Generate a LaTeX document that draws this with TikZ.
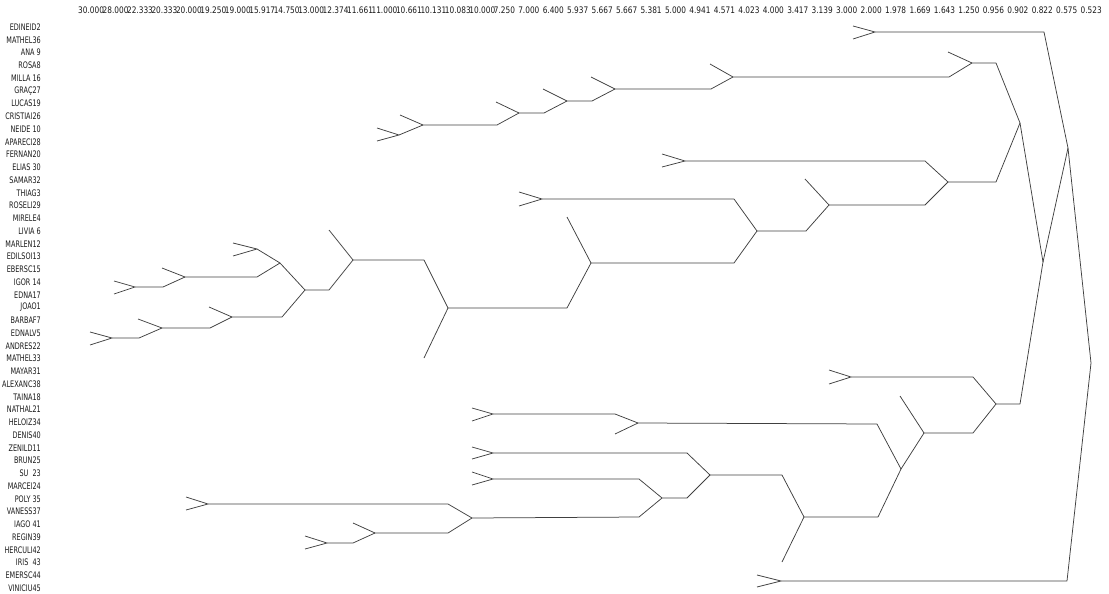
\documentclass[tikz,border=0pt]{standalone}
\usepackage{fontspec}
\usepackage{graphicx}
\newfontfamily\labfont{DejaVu Sans}
\tikzset{
  branch/.style={draw=black!75, line width=0.75pt, line join=round},
  lab/.style={anchor=east, inner sep=0pt, text=black!90, font=\labfont\fontsize{9}{9}\selectfont},
  tick/.style={anchor=west, inner sep=0pt, text=black!90, font=\labfont\fontsize{9}{9}\selectfont}
}
\begin{document}
\begin{tikzpicture}[x=1pt,y=-1pt]
\useasboundingbox (0,0) rectangle (1109,594);
% distance scale on top
\foreach \v [count=\i from 0] in {30.000,28.000,22.333,20.333,20.000,19.250,19.000,15.917,14.750,13.000,12.374,11.661,11.000,10.661,10.131,10.083,10.000,7.250,7.000,6.400,5.937,5.667,5.667,5.381,5.000,4.941,4.571,4.023,4.000,3.417,3.139,3.000,2.000,1.978,1.669,1.643,1.250,0.956,0.902,0.822,0.575,0.523}
  \node[tick] (s\i) at ({78+24.45*\i},10) {\scalebox{0.82}[1]{\v}};
% labels
\foreach \name [count=\i] in {EDINEID2,MATHEL36,ANA 9,ROSA8,MILLA 16,GRAÇ27,LUCAS19,CRISTIAI26,NEIDE 10,APARECI28,FERNAN20,ELIAS 30,SAMAR32,THIAG3,ROSELI29,MIRELE4,LIVIA 6,MARLEN12,EDILSOI13,EBERSC15,IGOR 14,EDNA17,JOAO1,BARBAF7,EDNALV5,ANDRES22,MATHEL33,MAYAR31,ALEXANC38,TAINA18,NATHAL21,HELOIZ34,DENIS40,ZENILD11,BRUN25,SU\ \ 23,MARCEI24,POLY 35,VANESS37,IAGO 41,REGIN39,HERCULI42,IRIS\ \ 43,EMERSC44,VINICIU45}
  \node[lab] (n\i) at (41,{27+12.75*(\i-1)}) {\scalebox{0.72}[1]{\name}};
% root and top pair
\coordinate (root) at (1091,363);
\coordinate (ja) at (1068,148);
\coordinate (ea) at (1044,32); \coordinate (pa) at (875,32);
\coordinate (pa1) at (853,26); \coordinate (pa2) at (853,39);
\draw[branch] (pa1) -- (pa) -- (pa2);
\draw[branch] (pa) -- (ea) -- (ja) -- (root);
% bottom pair
\coordinate (eb) at (1067,581); \coordinate (pb) at (781,581);
\coordinate (pb1) at (757,575); \coordinate (pb2) at (757,587);
\draw[branch] (pb1) -- (pb) -- (pb2);
\draw[branch] (root) -- (eb) -- (pb);
% upper group
\coordinate (jb) at (1043,262);
\coordinate (jc) at (1020,123);
\draw[branch] (ja) -- (jb);
\draw[branch] (jc) -- (jb);
\coordinate (c1) at (996,63); \coordinate (jd) at (972,63); \coordinate (t1) at (948,52);
\draw[branch] (jd) -- (c1) -- (jc);
\draw[branch] (t1) -- (jd);
\coordinate (c2) at (949,77); \coordinate (je) at (733,77); \coordinate (t2) at (710,64);
\draw[branch] (je) -- (c2) -- (jd);
\draw[branch] (t2) -- (je);
\coordinate (c3) at (711,89); \coordinate (jf) at (615,89); \coordinate (t3) at (591,77);
\draw[branch] (jf) -- (c3) -- (je);
\draw[branch] (t3) -- (jf);
\coordinate (c4) at (592,101); \coordinate (jg) at (567,101); \coordinate (t4) at (543,89);
\draw[branch] (jg) -- (c4) -- (jf);
\draw[branch] (t4) -- (jg);
\coordinate (c5) at (544,113); \coordinate (jh) at (519,113); \coordinate (t5) at (496,102);
\draw[branch] (jh) -- (c5) -- (jg);
\draw[branch] (t5) -- (jh);
\coordinate (c6) at (497,125); \coordinate (ji) at (423,125); \coordinate (t6) at (400,115);
\draw[branch] (ji) -- (c6) -- (jh);
\draw[branch] (t6) -- (ji);
\coordinate (pc) at (399,135); \coordinate (pc1) at (377,128); \coordinate (pc2) at (377,141);
\draw[branch] (pc) -- (ji);
\draw[branch] (pc1) -- (pc) -- (pc2);
% middle group
\coordinate (c7) at (996,182); \coordinate (jj) at (948,182);
\draw[branch] (jj) -- (c7) -- (jc);
\coordinate (c8) at (925,161); \coordinate (pd) at (685,161);
\coordinate (pd1) at (662,154); \coordinate (pd2) at (662,167);
\draw[branch] (pd) -- (c8) -- (jj);
\draw[branch] (pd1) -- (pd) -- (pd2);
\coordinate (c9) at (925,205); \coordinate (jk) at (829,205); \coordinate (t7) at (805,179);
\draw[branch] (jk) -- (c9) -- (jj);
\draw[branch] (t7) -- (jk);
\coordinate (c10) at (806,231); \coordinate (jl) at (757,231);
\draw[branch] (jl) -- (c10) -- (jk);
\coordinate (c11) at (734,199); \coordinate (pe) at (542,199);
\coordinate (pe1) at (519,192); \coordinate (pe2) at (519,206);
\draw[branch] (pe) -- (c11) -- (jl);
\draw[branch] (pe1) -- (pe) -- (pe2);
\coordinate (c12) at (734,263); \coordinate (jm) at (591,263); \coordinate (t8) at (567,217);
\draw[branch] (jm) -- (c12) -- (jl);
\draw[branch] (t8) -- (jm);
\coordinate (c13) at (567,308); \coordinate (jn) at (448,308); \coordinate (t9) at (424,358);
\draw[branch] (jn) -- (c13) -- (jm);
\draw[branch] (t9) -- (jn);
\coordinate (c14) at (424,260); \coordinate (jo) at (353,260); \coordinate (t10) at (329,230);
\draw[branch] (jo) -- (c14) -- (jn);
\draw[branch] (t10) -- (jo);
\coordinate (c15) at (329,290); \coordinate (jp) at (305,290);
\draw[branch] (jp) -- (c15) -- (jo);
\coordinate (jq) at (280,263);
\draw[branch] (jq) -- (jp);
\coordinate (pf) at (257,249); \coordinate (pf1) at (233,243); \coordinate (pf2) at (233,256);
\draw[branch] (pf) -- (jq);
\draw[branch] (pf1) -- (pf) -- (pf2);
\coordinate (c16) at (257,277); \coordinate (jr) at (185,277); \coordinate (t11) at (162,268);
\draw[branch] (jr) -- (c16) -- (jq);
\draw[branch] (t11) -- (jr);
\coordinate (c17) at (163,287); \coordinate (pg) at (135,287);
\coordinate (pg1) at (114,281); \coordinate (pg2) at (114,294);
\draw[branch] (pg) -- (c17) -- (jr);
\draw[branch] (pg1) -- (pg) -- (pg2);
\coordinate (c18) at (282,317); \coordinate (js) at (232,317); \coordinate (t12) at (209,307);
\draw[branch] (js) -- (c18) -- (jp);
\draw[branch] (t12) -- (js);
\coordinate (c19) at (210,328); \coordinate (jt) at (162,328); \coordinate (t13) at (138,319);
\draw[branch] (jt) -- (c19) -- (js);
\draw[branch] (t13) -- (jt);
\coordinate (c20) at (139,338); \coordinate (ph) at (112,338);
\coordinate (ph1) at (90,332); \coordinate (ph2) at (90,345);
\draw[branch] (ph) -- (c20) -- (jt);
\draw[branch] (ph1) -- (ph) -- (ph2);
% lower group
\coordinate (c21) at (1020,404); \coordinate (ju) at (996,404);
\draw[branch] (ju) -- (c21) -- (jb);
\coordinate (c22) at (973,377); \coordinate (pi) at (851,377);
\coordinate (pi1) at (829,370); \coordinate (pi2) at (829,384);
\draw[branch] (pi) -- (c22) -- (ju);
\draw[branch] (pi1) -- (pi) -- (pi2);
\coordinate (c23) at (973,433); \coordinate (jv) at (924,433); \coordinate (t14) at (900,396);
\draw[branch] (jv) -- (c23) -- (ju);
\draw[branch] (t14) -- (jv);
\coordinate (jw) at (901,469);
\draw[branch] (jw) -- (jv);
\coordinate (c24) at (877,424); \coordinate (jx) at (638,423);
\draw[branch] (jx) -- (c24) -- (jw);
\coordinate (c25) at (615,414); \coordinate (pj) at (493,414); \coordinate (t15) at (615,434);
\coordinate (pj1) at (472,408); \coordinate (pj2) at (472,421);
\draw[branch] (pj) -- (c25) -- (jx);
\draw[branch] (t15) -- (jx);
\draw[branch] (pj1) -- (pj) -- (pj2);
\coordinate (c26) at (878,517); \coordinate (jy) at (804,517); \coordinate (t16) at (782,562);
\draw[branch] (jy) -- (c26) -- (jw);
\draw[branch] (t16) -- (jy);
\coordinate (c27) at (782,475); \coordinate (jz) at (710,475);
\draw[branch] (jz) -- (c27) -- (jy);
\coordinate (c28) at (687,453); \coordinate (pk) at (493,453);
\coordinate (pk1) at (472,447); \coordinate (pk2) at (472,459);
\draw[branch] (pk) -- (c28) -- (jz);
\draw[branch] (pk1) -- (pk) -- (pk2);
\coordinate (c29) at (687,498); \coordinate (ka) at (662,498);
\draw[branch] (ka) -- (c29) -- (jz);
\coordinate (c30) at (639,479); \coordinate (pl) at (493,479);
\coordinate (pl1) at (472,472); \coordinate (pl2) at (472,485);
\draw[branch] (pl) -- (c30) -- (ka);
\draw[branch] (pl1) -- (pl) -- (pl2);
\coordinate (c31) at (639,517); \coordinate (kb) at (472,518);
\draw[branch] (kb) -- (c31) -- (ka);
\coordinate (c32) at (448,504); \coordinate (pm) at (208,504);
\coordinate (pm1) at (186,497); \coordinate (pm2) at (186,510);
\draw[branch] (pm) -- (c32) -- (kb);
\draw[branch] (pm1) -- (pm) -- (pm2);
\coordinate (c33) at (448,533); \coordinate (kc) at (375,533); \coordinate (t17) at (353,523);
\draw[branch] (kc) -- (c33) -- (kb);
\draw[branch] (t17) -- (kc);
\coordinate (c34) at (353,543); \coordinate (pn) at (327,543);
\coordinate (pn1) at (305,536); \coordinate (pn2) at (305,549);
\draw[branch] (pn) -- (c34) -- (kc);
\draw[branch] (pn1) -- (pn) -- (pn2);
\end{tikzpicture}
\end{document}
